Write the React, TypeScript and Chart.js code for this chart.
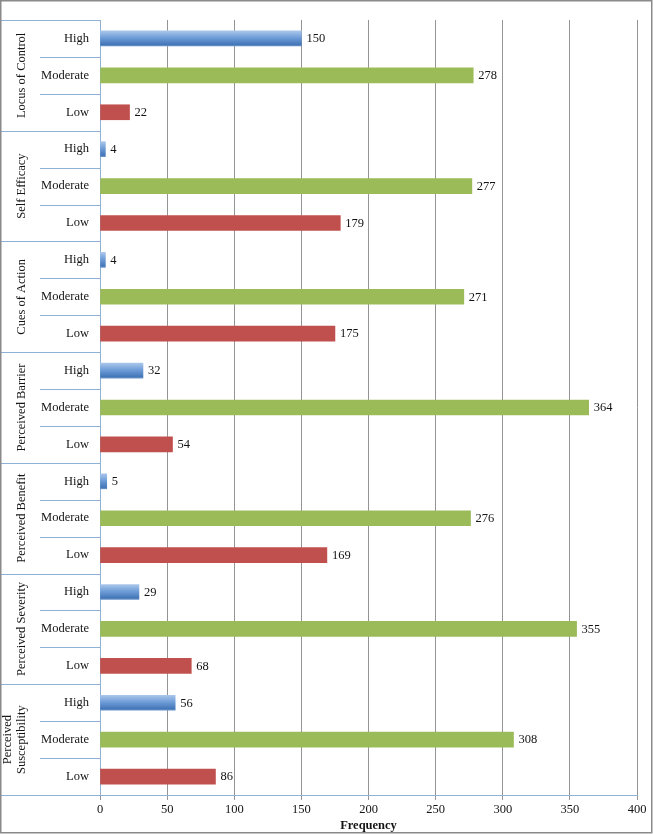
import React, { useEffect, useRef } from "react";
import { Chart, registerables } from "chart.js";

Chart.register(...registerables);

const groups: string[][] = [
  ["Locus of Control"],
  ["Self Efficacy"],
  ["Cues of Action"],
  ["Perceived Barrier"],
  ["Perceived Benefit"],
  ["Perceived Severity"],
  ["Perceived", "Susceptibility"],
];
const levels = ["High", "Moderate", "Low"];
const highValues = [150, 4, 4, 32, 5, 29, 56];
const moderateValues = [278, 277, 271, 364, 276, 355, 308];
const lowValues = [22, 179, 175, 54, 169, 68, 86];
const xTicks = [0, 50, 100, 150, 200, 250, 300, 350, 400];
const axisTitle = "Frequency";

const FONT = '"Liberation Serif", "Times New Roman", serif';
const TEXT = "#141414";
const AXIS_BLUE = "#8fb1d6";
const GRID = "#949494";

const labels: string[] = [];
const values: number[] = [];
const levelIdx: number[] = [];
groups.forEach((_, g) => {
  const vals = [highValues[g], moderateValues[g], lowValues[g]];
  levels.forEach((lv, i) => {
    labels.push(lv);
    values.push(vals[i]);
    levelIdx.push(i);
  });
});

const groupAxisPlugin = {
  id: "groupAxis",
  afterDraw(chart: any) {
    const { ctx, chartArea } = chart;
    const top = chartArea.top;
    const bottom = chartArea.bottom;
    const rowH = (bottom - top) / labels.length;
    const axisX = chartArea.left;
    ctx.save();
    ctx.strokeStyle = AXIS_BLUE;
    ctx.lineWidth = 1;
    ctx.beginPath();
    ctx.moveTo(0.5, top);
    ctx.lineTo(0.5, bottom);
    ctx.stroke();
    for (let g = 0; g <= groups.length; g++) {
      const y = Math.round(top + g * 3 * rowH) + 0.5;
      ctx.beginPath();
      ctx.moveTo(0, y);
      ctx.lineTo(axisX, y);
      ctx.stroke();
    }
    for (let g = 0; g < groups.length; g++) {
      for (let k = 1; k <= 2; k++) {
        const y = Math.round(top + (g * 3 + k) * rowH) + 0.5;
        ctx.beginPath();
        ctx.moveTo(40, y);
        ctx.lineTo(axisX, y);
        ctx.stroke();
      }
    }
    ctx.fillStyle = TEXT;
    ctx.font = `12.5px ${FONT}`;
    ctx.textAlign = "center";
    ctx.textBaseline = "middle";
    groups.forEach((lines, g) => {
      const cy = top + (g * 3 + 1.5) * rowH;
      lines.forEach((line, li) => {
        const cx = 22 - (lines.length - 1 - li) * 14;
        ctx.save();
        ctx.translate(cx, cy);
        ctx.rotate(-Math.PI / 2);
        ctx.fillText(line, 0, 0);
        ctx.restore();
      });
    });
    const meta = chart.getDatasetMeta(0);
    ctx.font = `12.5px ${FONT}`;
    ctx.textAlign = "left";
    meta.data.forEach((bar: any, i: number) => {
      ctx.fillText(String(values[i]), bar.x + 5, bar.y + 0.5);
    });
    ctx.strokeStyle = "#8a8a8a";
    ctx.lineWidth = 1.5;
    ctx.strokeRect(0.75, 0.75, 651, 832);
    ctx.restore();
  },
};

export default function App() {
  const ref = useRef<HTMLCanvasElement>(null);
  useEffect(() => {
    if (!ref.current) return;
    const chart = new Chart(ref.current, {
      type: "bar",
      data: {
        labels,
        datasets: [
          {
            data: values,
            backgroundColor: (c: any) => {
              const lv = levelIdx[c.dataIndex];
              if (lv === 1) return "#9bbb59";
              if (lv === 2) return "#c0504d";
              const ch = c.chart;
              if (!ch.chartArea || !ch.scales.y) return "#5b8fd0";
              const y = ch.scales.y.getPixelForValue(c.dataIndex);
              const g = ch.ctx.createLinearGradient(0, y - 7.5, 0, y + 7.5);
              g.addColorStop(0, "#a9c6ea");
              g.addColorStop(0.45, "#6f9dd8");
              g.addColorStop(0.9, "#4477b8");
              g.addColorStop(1, "#6a93c8");
              return g;
            },
            borderWidth: 0,
            barThickness: 15,
          },
        ],
      },
      options: {
        indexAxis: "y",
        animation: false,
        responsive: false,
        devicePixelRatio: 1,
        layout: { padding: { left: 0, right: 16, top: 20, bottom: 0 } },
        plugins: {
          legend: { display: false },
          tooltip: { enabled: false },
        },
        scales: {
          x: {
            type: "linear",
            min: 0,
            max: 400,
            afterBuildTicks: (s: any) => {
              s.ticks = xTicks.map((v) => ({ value: v }));
            },
            afterFit: (s: any) => {
              s.height = 39;
            },
            ticks: {
              color: TEXT,
              font: { family: FONT, size: 12.5 },
              padding: 2,
              maxRotation: 0,
            },
            grid: {
              color: (c: any) => (c.tick && c.tick.value === 0 ? "rgba(0,0,0,0)" : GRID),
              tickColor: GRID,
              tickLength: 5,
              lineWidth: 1,
            },
            border: { color: AXIS_BLUE, width: 1 },
            title: {
              display: true,
              text: axisTitle,
              color: TEXT,
              font: { family: FONT, size: 12.5, weight: "bold" },
              padding: { top: 0, bottom: 1 },
            },
          },
          y: {
            type: "category",
            afterFit: (s: any) => {
              s.width = 100;
            },
            ticks: {
              color: TEXT,
              font: { family: FONT, size: 12.5 },
              padding: 11,
              autoSkip: false,
            },
            grid: { display: false, drawTicks: false },
            border: { color: AXIS_BLUE, width: 1 },
          },
        },
      },
      plugins: [groupAxisPlugin],
    } as any);
    return () => chart.destroy();
  }, []);
  return (
    <div style={{ position: "absolute", left: 0, top: 0, width: 653, height: 834, background: "#fff" }}>
      <canvas ref={ref} width={653} height={834} style={{ display: "block" }} />
    </div>
  );
}
